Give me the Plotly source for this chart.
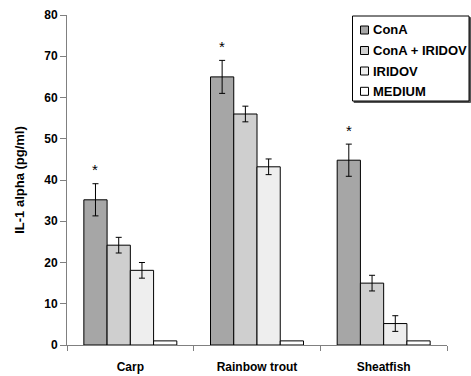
import plotly.graph_objects as go

categories = ["Carp", "Rainbow trout", "Sheatfish"]
series_names = ["ConA", "ConA + IRIDOV", "IRIDOV", "MEDIUM"]
values = {
    "ConA": [35.2, 65.0, 44.8],
    "ConA + IRIDOV": [24.2, 56.0, 15.0],
    "IRIDOV": [18.1, 43.2, 5.2],
    "MEDIUM": [1.0, 1.0, 1.0],
}
errors = {
    "ConA": [3.9, 4.0, 3.9],
    "ConA + IRIDOV": [1.9, 1.9, 1.9],
    "IRIDOV": [1.9, 1.9, 1.9],
    "MEDIUM": [0, 0, 0],
}
colors = {
    "ConA": "#a6a6a6",
    "ConA + IRIDOV": "#cfcfcf",
    "IRIDOV": "#eeeeee",
    "MEDIUM": "#ffffff",
}
y_ticks = [0, 10, 20, 30, 40, 50, 60, 70, 80]
star_offset = 3.4

FONT = "Liberation Sans, Arial, sans-serif"
W, H = 471, 376
ML, MR, MT, MB = 67, 24, 15, 31
PW, PH = W - ML - MR, H - MT - MB
BARGAP = 0.266


def px_x(px):
    return (px - ML) / PW


def px_y(py):
    return (H - MB - py) / PH


fig = go.Figure()
for name in series_names:
    err = errors[name]
    fig.add_trace(go.Bar(
        x=categories, y=values[name], name=name, showlegend=False,
        marker=dict(color=colors[name], line=dict(color="#000000", width=1)),
        error_y=dict(type="data", array=err, visible=any(e > 0 for e in err),
                     color="#000000", thickness=1, width=3),
    ))

# significance asterisks above ConA bars (first bar of each group)
bar_w = PW / len(categories) * (1 - BARGAP) / len(series_names)
star_shift = -1.5 * bar_w
for i, c in enumerate(categories):
    fig.add_annotation(
        x=c, y=values["ConA"][i] + errors["ConA"][i] + star_offset,
        xref="x", yref="y", text="*", showarrow=False,
        xanchor="center", yanchor="middle", xshift=star_shift,
        font=dict(family=FONT, size=15, color="#000000"),
    )

# legend box (with shadow), drawn in paper coordinates
box = dict(x0=352.5, x1=469.0, y0=16.0, y1=101.0)
fig.add_shape(type="rect", xref="paper", yref="paper",
              x0=px_x(box["x0"] + 1.5), x1=px_x(box["x1"] + 1.5),
              y0=px_y(box["y1"] + 1.5), y1=px_y(box["y0"] + 1.5),
              line=dict(color="#555555", width=1), fillcolor="#555555", layer="above")
fig.add_shape(type="rect", xref="paper", yref="paper",
              x0=px_x(box["x0"]), x1=px_x(box["x1"]),
              y0=px_y(box["y1"]), y1=px_y(box["y0"]),
              line=dict(color="#000000", width=1), fillcolor="white", layer="above")
row_y = [30.0, 50.5, 71.0, 91.3]
for name, ry in zip(series_names, row_y):
    fig.add_shape(type="rect", xref="paper", yref="paper",
                  x0=px_x(360.5), x1=px_x(368.5),
                  y0=px_y(ry + 4), y1=px_y(ry - 4),
                  line=dict(color="#000000", width=1), fillcolor=colors[name],
                  layer="above")
    fig.add_annotation(x=px_x(370.5), y=px_y(ry), xref="paper", yref="paper",
                       text=name, showarrow=False, xanchor="left", yanchor="middle",
                       font=dict(family=FONT, size=13, color="#000000", weight="bold"))

fig.update_layout(
    width=W, height=H,
    margin=dict(l=ML, r=MR, t=MT, b=MB, autoexpand=False),
    paper_bgcolor="white", plot_bgcolor="white",
    barmode="group", bargap=BARGAP, bargroupgap=0,
    font=dict(family=FONT, size=12, color="#000"),
    showlegend=False,
)
fig.update_xaxes(
    type="category", range=[-0.5, 2.5], automargin=False,
    showline=True, linecolor="#808080", linewidth=1,
    ticks="outside", tickson="boundaries", ticklen=5, tickcolor="#808080",
    tickfont=dict(family=FONT, size=12, color="#000", weight="bold"),
    ticklabelstandoff=11,
    showgrid=False, zeroline=False,
)
fig.update_yaxes(
    range=[0, 80], tickvals=y_ticks, automargin=False,
    showline=True, linecolor="#808080", linewidth=1,
    ticks="outside", ticklen=6, tickcolor="#808080",
    tickfont=dict(family=FONT, size=12, color="#000", weight="bold"),
    showgrid=False, zeroline=False,
    title=dict(text="IL-1 alpha (pg/ml)", standoff=16,
               font=dict(family=FONT, size=13, color="#000", weight="bold")),
)

fig.write_html("out.html")
